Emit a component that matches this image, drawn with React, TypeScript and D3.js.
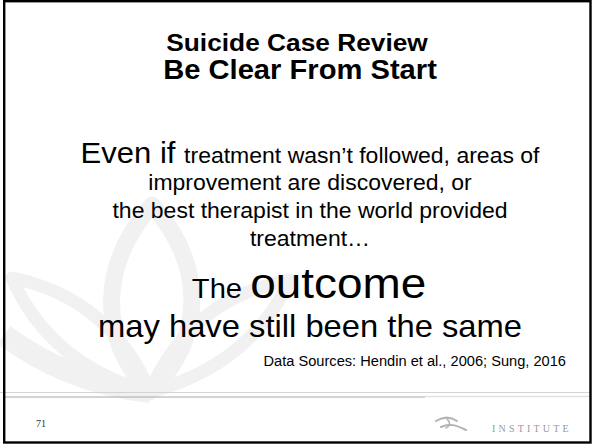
import React from 'react'
import * as d3 from 'd3'

// slide text, line by line
const titleLines = ['Suicide Case Review', 'Be Clear From Start']
const bodyLines = [
  [{ t: 'Even if ', big: 1 }, { t: 'treatment wasn\u2019t followed, areas of', big: 0 }],
  [{ t: 'improvement are discovered, or', big: 0 }],
  [{ t: 'the best therapist in the world provided', big: 0 }],
  [{ t: 'treatment\u2026', big: 0 }],
]
const outcomeLine = [{ t: 'The ', big: 0 }, { t: 'outcome', big: 1 }]
const closingLine = 'may have still been the same'
const citation = 'Data Sources: Hendin et al., 2006; Sung, 2016'
const pageNumber = '71'
const footerName = 'INSTITUTE'

const W = 592
const H = 445
const font = '"Liberation Sans", Arial, sans-serif'
const sx = 1.06

// baselines for each row of the slide
const titleY = d3.scaleOrdinal<number, number>().domain([0, 1]).range([51, 79])
const bodyY = d3.scaleOrdinal<number, number>().domain([0, 1, 2, 3]).range([162.5, 190, 218, 246])

function lotus() {
  const c = d3.path()
  c.moveTo(152, 205)
  c.bezierCurveTo(102, 262, 95, 335, 150, 392)
  c.bezierCurveTo(208, 335, 203, 262, 152, 205)
  c.closePath()
  const l = d3.path()
  l.moveTo(12, 278)
  l.quadraticCurveTo(110, 298, 150, 392)
  l.quadraticCurveTo(50, 365, 12, 278)
  l.closePath()
  const r = d3.path()
  r.moveTo(290, 280)
  r.quadraticCurveTo(190, 298, 150, 392)
  r.quadraticCurveTo(250, 365, 290, 280)
  r.closePath()
  const band = d3.path()
  band.moveTo(4, 335)
  band.bezierCurveTo(40, 362, 90, 386, 150, 392)
  return { c: c.toString(), l: l.toString(), r: r.toString(), band: band.toString() }
}

export default function App() {
  const p = lotus()
  return (
    <svg width={W} height={H} style={{ position: 'absolute', left: 0, top: 0, background: '#fff' }}>
      <rect x={0} y={0} width={W} height={H} fill="#fff" />
      <g fill="none" stroke="#f1f1f1" strokeLinejoin="round">
        <path d={p.c} strokeWidth={17} />
        <path d={p.l} strokeWidth={13} />
        <path d={p.r} strokeWidth={13} />
        <path d={p.band} strokeWidth={22} />
      </g>

      {titleLines.map((s, i) => (
        <text
          key={s}
          transform={`translate(${i ? 300 : 297},${titleY(i)}) scale(${sx},1)`}
          textAnchor="middle"
          fontFamily={font}
          fontWeight="bold"
          fontSize={i ? 27.5 : 24.8}
        >
          {s}
        </text>
      ))}

      {bodyLines.map((segs, i) => (
        <text
          key={i}
          transform={`translate(310,${bodyY(i)}) scale(${sx},1)`}
          textAnchor="middle"
          fontFamily={font}
          fontSize={21.7}
        >
          {segs.map(s => (
            <tspan key={s.t} fontSize={s.big ? 29.3 : 21.7}>
              {s.t}
            </tspan>
          ))}
        </text>
      ))}

      <text transform={`translate(309,298) scale(${sx},1)`} textAnchor="middle" fontFamily={font}>
        {outcomeLine.map(s => (
          <tspan key={s.t} fontSize={s.big ? 43.3 : 27.5}>
            {s.t}
          </tspan>
        ))}
      </text>
      <text transform={`translate(310,337) scale(${sx},1)`} textAnchor="middle" fontFamily={font} fontSize={30.9}>
        {closingLine}
      </text>
      <text transform={`translate(566,366) scale(${sx},1)`} textAnchor="end" fontFamily={font} fontSize={13.8}>
        {citation}
      </text>

      <line x1={0} x2={590} y1={392.5} y2={392.5} stroke="#d4d4d4" strokeWidth={1} />
      <line x1={5} x2={425} y1={397} y2={397} stroke="#a8a8a8" strokeWidth={1.2} />
      <line x1={425} x2={590} y1={396.5} y2={396.5} stroke="#e2e2e2" strokeWidth={1.5} />

      <text x={36} y={427} fontFamily='"Liberation Serif", "Times New Roman", serif' fontSize={10} fill="#333">
        {pageNumber}
      </text>
      <g fill="none" stroke="#b3b3b3" strokeLinecap="round">
        <path d="M436,421 C444,416 451,417 457,421" strokeWidth={2} />
        <path d="M441,427 C449,423 456,425 466,430" strokeWidth={2} />
        <path d="M447,419 C451,423 450,426 446,428" strokeWidth={1.5} />
      </g>
      <text
        x={492}
        y={432}
        fontFamily='"Liberation Serif", "Times New Roman", serif'
        fontSize={10}
        letterSpacing={3.2}
        fill="#9a9a9a"
      >
        {footerName}
      </text>

      <rect x={4.2} y={1.2} width={586.3} height={441.3} fill="none" stroke="#000" strokeWidth={2.4} />
    </svg>
  )
}
